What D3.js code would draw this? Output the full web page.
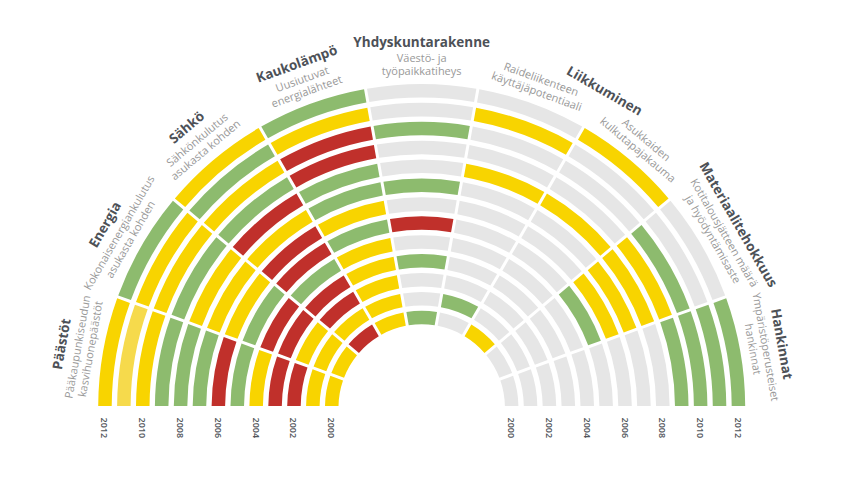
<!DOCTYPE html>
<html><head><meta charset="utf-8">
<script src="https://cdn.jsdelivr.net/npm/d3@7"></script>
<style>html,body{margin:0;padding:0;background:#fff;} svg{display:block}</style>
</head><body>
<svg id="c" width="842" height="492"></svg>
<script>
// ---------- data ----------
const years = [2000,2001,2002,2003,2004,2005,2006,2007,2008,2009,2010,2011,2012];
const yearLabels = [2000,2002,2004,2006,2008,2010,2012];
const indicators = ["paastot","energia","sahko","kaukolampo","yhdyskunta","raide","kulkutapa","materiaali","hankinnat"];
const subtitles = [
  ["Pääkaupunkiseudun","kasvihuonepäästöt"],
  ["Kokonaisenergiankulutus","asukasta kohden"],
  ["Sähkönkulutus","asukasta kohden"],
  ["Uusiutuvat","energialähteet"],
  ["Väestö- ja","työpaikkatiheys"],
  ["Raideliikenteen","käyttäjäpotentiaali"],
  ["Asukkaiden","kulkutapajakauma"],
  ["Kotitalousjätteen määrä","ja hyödyntämisaste"],
  ["Ympäristöperusteiset","hankinnat"]
];
const groupTitles = ["Päästöt","Energia","Sähkö","Kaukolämpö","Yhdyskuntarakenne","Liikkuminen","Materiaalitehokkuus","Hankinnat"];
const groupFirst = [0,1,2,3,4,5,7,8];
const groupLast  = [0,1,2,3,4,6,7,8];
// status per year 2000..2012 : Y = yellow, G = green, R = red, L = light yellow, N = no data
const paastot    = ["Y","Y","R","R","Y","G","R","G","G","G","Y","L","Y"];
const energia    = ["Y","Y","Y","R","R","G","Y","Y","Y","G","Y","Y","G"];
const sahko      = ["R","Y","R","R","G","R","R","Y","R","G","Y","G","Y"];
const kaukolampo = ["Y","Y","Y","Y","Y","G","Y","G","G","R","R","Y","G"];
const yhdyskunta = ["G","N","N","G","N","R","N","G","N","N","G","N","N"];
const raide      = ["N","G","N","N","N","N","N","N","Y","N","N","Y","N"];
const kulkutapa  = ["Y","N","N","N","N","N","N","N","Y","N","N","N","Y"];
const materiaali = ["N","N","N","N","N","G","Y","Y","Y","Y","G","N","N"];
const hankinnat  = ["N","N","N","N","N","N","N","N","N","G","G","G","G"];
const seriesList = [paastot,energia,sahko,kaukolampo,yhdyskunta,raide,kulkutapa,materiaali,hankinnat];

const statusKeys = ["Y","G","R","L","N"];
const statusColors = ["#f8d400","#8dbb6e","#c0302b","#f6da4c","#e6e6e6"];

// ---------- drawing ----------
const svg = d3.select("#c");
const cx = 421.7, cy = 407.5;
const color = d3.scaleOrdinal().domain(statusKeys).range(statusColors);
const rScale = d3.scaleBand().domain(years).range([83.2, 323.5]).paddingInner(0.285);
const aScale = d3.scaleBand().domain(indicators).range([-Math.PI/2, Math.PI/2]);

const cells = [];
indicators.forEach((ind, i) => {
  years.forEach((y, j) => cells.push({ind, year: y, status: seriesList[i][j]}));
});

const arc = d3.arc()
  .innerRadius(d => rScale(d.year))
  .outerRadius(d => rScale(d.year) + rScale.bandwidth())
  .startAngle(d => aScale(d.ind))
  .endAngle(d => aScale(d.ind) + aScale.bandwidth())
  .padAngle(0.03).padRadius(100);

const g = svg.append("g").attr("transform", `translate(${cx},${cy})`);
g.selectAll("path.cell").data(cells).join("path")
  .attr("class","cell")
  .attr("d", arc)
  .attr("fill", d => color(d.status));

// labels helper: d3 angle (clockwise from top) -> position
function place(angle, R) {
  const th = Math.PI/2 - angle;
  return [cx + R*Math.cos(th), cy - R*Math.sin(th), 90 - th*180/Math.PI];
}

// group titles
groupTitles.forEach((t, k) => {
  const a0 = aScale(indicators[groupFirst[k]]);
  const a1 = aScale(indicators[groupLast[k]]) + aScale.bandwidth();
  const [x, y, rot] = place((a0 + a1)/2, 366);
  svg.append("text")
    .attr("transform", `translate(${x},${y}) rotate(${rot})`)
    .attr("text-anchor","middle").attr("dominant-baseline","central")
    .attr("font-family","'Open Sans', sans-serif").attr("font-weight",700)
    .attr("font-size",13.5).attr("fill","#4d5157")
    .text(t);
});

// subtitles
subtitles.forEach((lines, i) => {
  const am = aScale(indicators[i]) + aScale.bandwidth()/2;
  lines.forEach((ln, l) => {
    const [x, y, rot] = place(am, 350 - l*13);
    svg.append("text")
      .attr("transform", `translate(${x},${y}) rotate(${rot})`)
      .attr("text-anchor","middle").attr("dominant-baseline","central")
      .attr("font-family","'Open Sans', sans-serif").attr("font-weight",400)
      .attr("font-size",11).attr("fill","#999999")
      .text(ln);
  });
});

// year labels on both sides of the baseline
[-1, 1].forEach(side => {
  svg.selectAll(null).data(yearLabels).join("text")
    .attr("transform", d => `translate(${cx + side*(rScale(d) + rScale.bandwidth()/2)},417.5) rotate(90)`)
    .attr("text-anchor","start").attr("dominant-baseline","central")
    .attr("font-family","'Open Sans', sans-serif").attr("font-size",9)
    .attr("font-weight",600)
    .attr("fill","#505459")
    .text(d => d);
});
</script>
</body></html>
